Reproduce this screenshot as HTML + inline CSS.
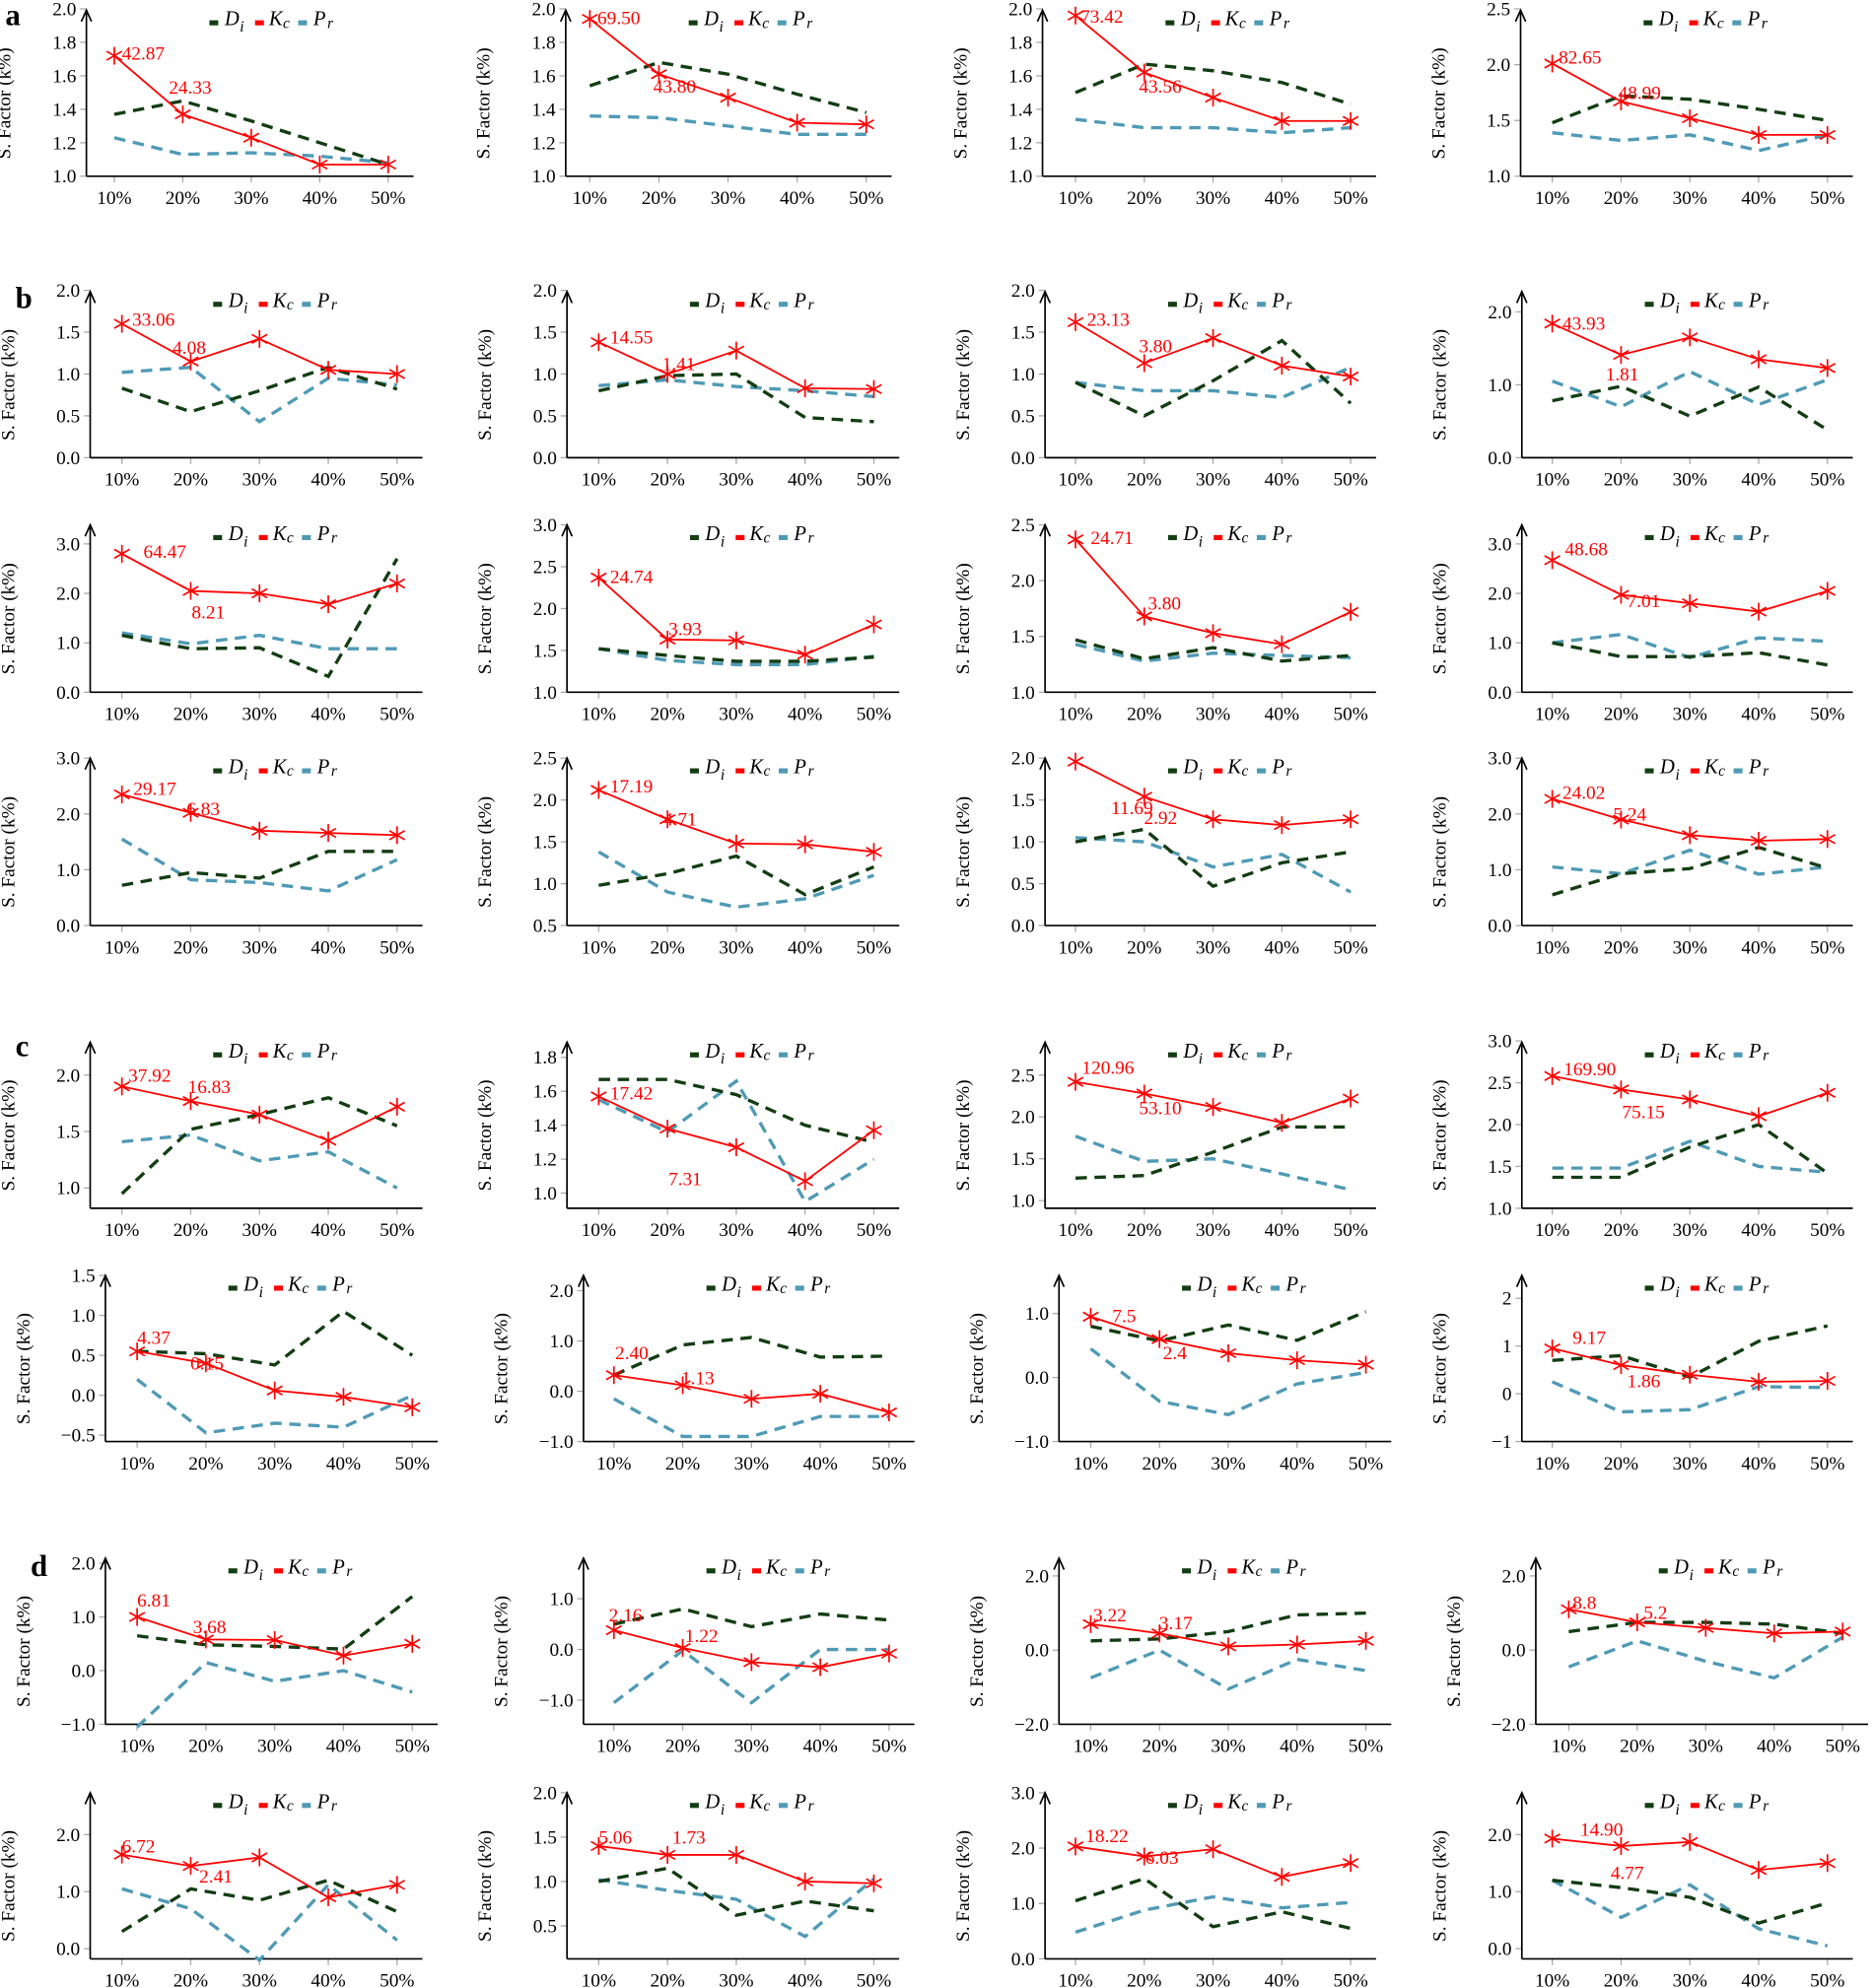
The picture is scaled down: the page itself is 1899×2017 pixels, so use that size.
<!DOCTYPE html>
<html><head><meta charset="utf-8"><style>
html,body{margin:0;padding:0;background:#fff;}
svg{display:block;}
text{font-family:"Liberation Serif",serif;}
</style></head><body>
<svg id="s" width="1899" height="2017" viewBox="0 0 1476 1568" xmlns="http://www.w3.org/2000/svg">
<rect width="1476" height="1568" fill="#fff"/>
<text x="4" y="20" font-size="24" font-weight="bold">a</text>
<text x="12" y="243" font-size="24" font-weight="bold">b</text>
<text x="12" y="833" font-size="24" font-weight="bold">c</text>
<text x="24" y="1243" font-size="24" font-weight="bold">d</text>
</svg>
<script>
const P=[
[68,90,306,8,139,[1,2,.2,139,7],1,[1.37,1.45,1.33,1.2,1.07],[1.72,1.37,1.23,1.07,1.07],[1.23,1.13,1.14,1.12,1.08],[[0,"42.87",96,42],[1,"24.33",133,69]]],
[446,465,683,8,139,[1,2,.2,139,7],1,[1.54,1.68,1.61,1.49,1.38],[1.94,1.61,1.47,1.32,1.31],[1.36,1.35,1.3,1.25,1.25],[[0,"69.50",471,14],[1,"43.80",515,68]]],
[822,848,1065,8,139,[1,2,.2,139,7],1,[1.5,1.67,1.63,1.56,1.43],[1.96,1.62,1.47,1.33,1.33],[1.34,1.29,1.29,1.26,1.29],[[0,"73.42",852,13],[1,"43.56",898,68]]],
[1199,1224,1441,8,139,[1,2.5,.5,139,7],1,[1.48,1.72,1.69,1.6,1.5],[2.01,1.67,1.52,1.37,1.37],[1.39,1.32,1.37,1.23,1.37],[[0,"82.65",1229,45],[1,"48.99",1276,73]]],
[71,96,313,230,361,[0,2,.5,361,229],1,[.83,.55,.8,1.08,.82],[1.6,1.15,1.42,1.05,1],[1.02,1.08,.43,.95,.87],[[0,"33.06",104,252],[1,"4.08",136,274]]],
[447,472,689,230,361,[0,2,.5,361,229],1,[.8,.98,1,.48,.43],[1.38,1,1.28,.83,.82],[.86,.93,.85,.8,.73],[[0,"14.55",481,266],[1,"1.41",522,287]]],
[824,848,1065,230,361,[0,2,.5,361,229],1,[.9,.5,.92,1.4,.65],[1.62,1.13,1.43,1.1,.97],[.9,.8,.8,.72,1.08],[[0,"23.13",857,252],[1,"3.80",898,273]]],
[1200,1224,1441,230,361,[0,2,1,361,246],1,[.78,.98,.57,.97,.38],[1.84,1.41,1.65,1.35,1.23],[1.05,.7,1.18,.73,1.07],[[0,"43.93",1232,255],[1,"1.81",1266,295]]],
[71,96,313,414,546,[0,3,1,546,429],1,[1.15,.88,.9,.32,2.7],[2.8,2.05,2,1.78,2.2],[1.2,.98,1.15,.88,.88],[[0,"64.47",113,435],[1,"8.21",151,483]]],
[447,472,689,414,546,[1,3,.5,546,414],1,[1.52,1.44,1.37,1.37,1.42],[2.37,1.63,1.62,1.45,1.81],[1.52,1.38,1.33,1.33,1.43],[[0,"24.74",481,455],[1,"3.93",527,496]]],
[824,848,1065,414,546,[1,2.5,.5,546,414],1,[1.47,1.3,1.4,1.28,1.33],[2.37,1.68,1.53,1.43,1.72],[1.43,1.28,1.35,1.33,1.31],[[0,"24.71",860,424],[1,"3.80",905,476]]],
[1200,1224,1441,414,546,[0,3,1,546,429],1,[1,.72,.72,.8,.55],[2.67,1.97,1.8,1.63,2.05],[1,1.17,.7,1.1,1.03],[[0,"48.68",1234,433],[1,"7.01",1283,474]]],
[71,96,313,598,730,[0,3,1,730,598],1,[.72,.95,.85,1.33,1.33],[2.35,2.02,1.7,1.66,1.62],[1.55,.82,.77,.62,1.18],[[0,"29.17",105,622],[1,"6.83",147,638]]],
[447,472,689,598,730,[.5,2.5,.5,730,598],1,[.98,1.12,1.33,.87,1.2],[2.12,1.77,1.48,1.47,1.38],[1.38,.9,.72,.82,1.1],[[0,"17.19",481,620],[1,"4.71",523,646]]],
[824,848,1065,598,730,[0,2,.5,730,598],1,[1,1.15,.47,.75,.88],[1.96,1.54,1.27,1.2,1.27],[1.05,1,.7,.85,.4],[[0,"11.69",876,637],[1,"2.92",902,645]]],
[1200,1224,1441,598,730,[0,3,1,730,598],1,[.55,.93,1.02,1.4,1.03],[2.27,1.9,1.62,1.52,1.55],[1.05,.93,1.35,.92,1.05],[[0,"24.02",1232,625],[1,"5.24",1272,642]]],
[71,96,313,822,953,[1,2,.5,937,848],1,[.95,1.52,1.65,1.8,1.55],[1.9,1.77,1.65,1.42,1.72],[1.41,1.47,1.24,1.32,1],[[0,"37.92",101,848],[1,"16.83",148,857]]],
[447,472,689,822,953,[1,1.8,.2,941,834],1,[1.67,1.67,1.58,1.4,1.3],[1.57,1.38,1.27,1.07,1.37],[1.55,1.36,1.66,.95,1.2],[[0,"17.42",481,862],[1,"7.31",527,930]]],
[824,848,1065,822,953,[1,2.5,.5,947,848],1,[1.27,1.3,1.58,1.88,1.88],[2.42,2.28,2.12,1.93,2.22],[1.77,1.47,1.5,1.32,1.13],[[0,"120.96",853,842],[1,"53.10",898,874]]],
[1200,1224,1441,822,953,[1,3,.5,953,821],1,[1.37,1.37,1.73,2,1.42],[2.58,2.42,2.3,2.1,2.38],[1.48,1.48,1.8,1.5,1.43],[[0,"169.90",1233,843],[1,"75.15",1279,877]]],
[83,108,325,1006,1137,[-.5,1.5,.5,1132,1006],1,[.55,.52,.38,1.05,.5],[.55,.4,.06,-.02,-.15],[.2,-.47,-.35,-.4,0],[[0,"4.37",108,1055],[1,"0.15",150,1075]]],
[460,484,701,1006,1137,[-1,2,1,1137,1018],1,[.32,.92,1.07,.68,.7],[.32,.12,-.15,-.05,-.42],[-.15,-.9,-.9,-.5,-.5],[[0,"2.40",485,1067],[1,"1.13",537,1087]]],
[835,860,1077,1006,1137,[-1,1,1,1137,1036],1,[.8,.57,.82,.58,1.03],[.95,.6,.38,.27,.2],[.45,-.37,-.58,-.1,.08],[[0,"7.5",877,1038],[1,"2.4",917,1067]]],
[1200,1224,1441,1006,1137,[-1,2,1,1137,1024],0,[.7,.8,.35,1.1,1.42],[.95,.6,.4,.25,.27],[.25,-.38,-.33,.15,.13],[[0,"9.17",1240,1055],[1,"1.86",1283,1089]]],
[83,108,325,1229,1360,[-1,2,1,1360,1233],1,[.65,.48,.45,.4,1.38],[1,.58,.57,.28,.5],[-1.05,.15,-.2,0,-.4],[[0,"6.81",108,1262],[1,"3.68",152,1283]]],
[460,484,701,1229,1360,[-1,1,1,1341,1261],1,[.5,.8,.45,.7,.58],[.38,.03,-.25,-.35,-.08],[-1.05,-.02,-1.05,0,0],[[0,"2.16",480,1274],[1,"1.22",540,1290]]],
[835,860,1077,1229,1360,[-2,2,2,1360,1243],1,[.25,.3,.5,.95,1],[.7,.45,.1,.15,.25],[-.75,0,-1.05,-.25,-.55],[[0,"3.22",862,1274],[1,"3.17",914,1280]]],
[1211,1237,1453,1229,1360,[-2,2,2,1360,1243],1,[.5,.75,.75,.7,.45],[1.1,.75,.6,.45,.5],[-.45,.25,-.3,-.75,.35],[[0,"8.8",1240,1264],[1,"5.2",1296,1272]]],
[71,96,313,1414,1545,[0,2,1,1537,1447],1,[.3,1.05,.85,1.2,.65],[1.65,1.45,1.6,.9,1.12],[1.05,.7,-.2,1.12,.15],[[0,"6.72",96,1456],[1,"2.41",157,1480]]],
[447,472,689,1414,1545,[.5,2,.5,1519,1414],1,[1,1.15,.62,.78,.67],[1.4,1.3,1.3,1,.98],[1.02,.9,.8,.38,1.03],[[0,"5.06",472,1449],[1,"1.73",530,1449]]],
[824,848,1065,1414,1545,[0,3,1,1545,1414],1,[1.05,1.45,.58,.85,.55],[2.03,1.85,1.98,1.48,1.73],[.48,.88,1.12,.92,1.02],[[0,"18.22",856,1448],[1,"6.03",903,1465]]],
[1200,1224,1441,1414,1545,[0,2,1,1537,1447],1,[1.2,1.07,.9,.45,.8],[1.93,1.8,1.87,1.38,1.5],[1.2,.55,1.12,.35,.05],[[0,"14.90",1246,1443],[1,"4.77",1270,1477]]]
];
const NS="http://www.w3.org/2000/svg",S=document.getElementById("s");
function el(t,a,txt){const e=document.createElementNS(NS,t);for(const k in a)e.setAttribute(k,a[k]);if(txt!==undefined)e.textContent=txt;S.appendChild(e);return e;}
function fmt(v,d){let s=Math.abs(v).toFixed(d);return (v<-1e-9?"\u2212":"")+s;}
const GREEN="#133d13",RED="#ff0000",BLUE="#4f9ab5";
for(const p of P){
 const [ax,x10,x50,tip,bot,t,dec,Di,Kc,Pr,L]=p;
 const [tmin,tmax,st,pmin,pmax]=t;
 const Y=v=>pmin+(v-tmin)/(tmax-tmin)*(pmax-pmin);
 const X=i=>x10+i*(x50-x10)/4;
 const xr=x50+20;
 for(let v=tmin;v<=tmax+1e-9;v+=st){const y=Y(v);el("line",{x1:ax-5,y1:y,x2:ax,y2:y,stroke:"#aaa","stroke-width":1});
  el("text",{x:ax-8,y:y+5,"font-size":15,"text-anchor":"end"},fmt(v,dec));}
 for(let i=0;i<5;i++){el("line",{x1:X(i),y1:bot,x2:X(i),y2:bot+5,stroke:"#aaa","stroke-width":1});
  el("text",{x:X(i),y:bot+22,"font-size":15,"text-anchor":"middle"},(i+1)*10+"%");}
 el("line",{x1:ax,y1:bot,x2:xr,y2:bot,stroke:"#000","stroke-width":1.3});
 el("line",{x1:ax,y1:bot,x2:ax,y2:tip+2,stroke:"#000","stroke-width":1.3});
 el("path",{d:`M${ax-4},${tip+9} L${ax},${tip} L${ax+4},${tip+9}`,fill:"none",stroke:"#000","stroke-width":1.3});
 const yl=ax-60,ym=(tip+bot)/2+8;
 el("text",{x:yl,y:ym,"font-size":15,"text-anchor":"middle",transform:`rotate(-90 ${yl} ${ym})`},"S. Factor (k%)");
 const lx=ax+97,ly=tip+12;
 el("rect",{x:lx,y:ly-4,width:7,height:4,fill:GREEN});
 el("text",{x:lx+12,y:ly,"font-size":16,"font-style":"italic"},"D");
 el("text",{x:lx+24,y:ly+5,"font-size":12,"font-style":"italic"},"i");
 el("rect",{x:lx+36,y:ly-4,width:7,height:4,fill:RED});
 el("text",{x:lx+47,y:ly,"font-size":16,"font-style":"italic"},"K");
 el("text",{x:lx+58,y:ly+2,"font-size":12,"font-style":"italic"},"c");
 el("rect",{x:lx+70,y:ly-4,width:7,height:4,fill:BLUE});
 el("text",{x:lx+82,y:ly,"font-size":16,"font-style":"italic"},"P");
 el("text",{x:lx+93,y:ly+2,"font-size":12,"font-style":"italic"},"r");
 const pts=a=>a.map((v,i)=>X(i).toFixed(1)+","+Y(v).toFixed(1)).join(" ");
 el("polyline",{points:pts(Pr),fill:"none",stroke:BLUE,"stroke-width":2.6,"stroke-dasharray":"9,6"});
 el("polyline",{points:pts(Di),fill:"none",stroke:GREEN,"stroke-width":2.6,"stroke-dasharray":"9,6"});
 el("polyline",{points:pts(Kc),fill:"none",stroke:RED,"stroke-width":1.4});
 Kc.forEach((v,i)=>{const cx=X(i),cy=Y(v),r=7;
  for(let k=0;k<3;k++){const a=Math.PI/2+k*Math.PI/3;el("line",{x1:cx-r*Math.cos(a),y1:cy-r*Math.sin(a),x2:cx+r*Math.cos(a),y2:cy+r*Math.sin(a),stroke:RED,"stroke-width":1.3});}});
 for(const l of L) el("text",{x:l[2],y:l[3]+5,"font-size":15,fill:RED},l[1]);
}
</script>
</body></html>
